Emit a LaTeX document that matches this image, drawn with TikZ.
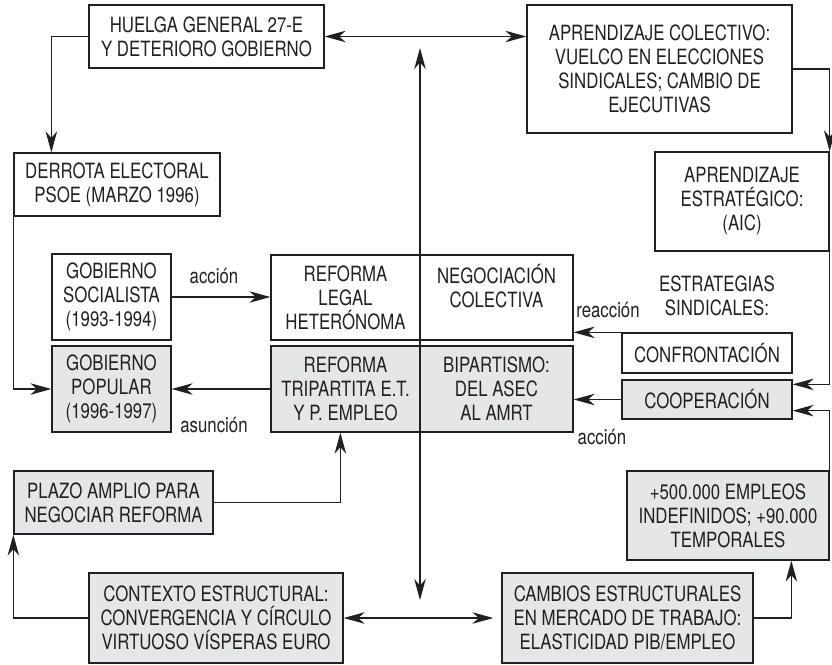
\documentclass[tikz,border=0pt]{standalone}
\usepackage{fontspec}
\setmainfont[FakeStretch=0.8]{TeX Gyre Heros}
\usetikzlibrary{arrows.meta,calc}
\definecolor{ink}{HTML}{231F20}
\definecolor{shade}{HTML}{E5E6E7}
\tikzset{tip/.tip={Stealth[length=21pt,width=11.5pt,inset=6.5pt]}}
\begin{document}
\begin{tikzpicture}[x=1pt,y=-1pt,
  every node/.style={font=\fontsize{21}{24}\selectfont, text=ink},
  box/.style={draw=ink, line width=1.3pt, align=center, inner sep=0pt},
  greybox/.style={box, fill=shade},
  link/.style={draw=ink, line width=1.2pt, -tip},
  twoway/.style={draw=ink, line width=1.2pt, tip-tip},
  lbl/.style={inner sep=0pt}]
\useasboundingbox (0,0) rectangle (832,664);

% upper row
\node[box, minimum width=235pt, minimum height=63pt] (huelga) at (206.5,36.5)
  {HUELGA GENERAL 27-E\\Y DETERIORO GOBIERNO};
\node[box, minimum width=265pt, minimum height=128pt] (colect) at (659.5,69)
  {APRENDIZAJE COLECTIVO:\\VUELCO EN ELECCIONES\\SINDICALES; CAMBIO DE\\EJECUTIVAS};
\node[box, minimum width=174pt, minimum height=99pt] (estrat) at (742,201.5)
  {APRENDIZAJE\\ESTRATÉGICO:\\(AIC)};
\node[box, minimum width=206pt, minimum height=63pt] (derrota) at (117,184.5)
  {DERROTA ELECTORAL\\PSOE (MARZO 1996)};

% governments
\node[box, minimum width=119pt, minimum height=86pt] (soc) at (111.5,297)
  {GOBIERNO\\SOCIALISTA\\(1993-1994)};
\node[greybox, minimum width=119pt, minimum height=86pt] (pop) at (111.5,389)
  {GOBIERNO\\POPULAR\\(1996-1997)};

% central block of reforms
\node[box, minimum width=149pt, minimum height=85pt] (legal) at (345.5,297.5)
  {REFORMA\\LEGAL\\HETERÓNOMA};
\node[box, minimum width=153pt, minimum height=85pt] (negoc) at (496.5,297.5)
  {NEGOCIACIÓN\\COLECTIVA\\\phantom{X}};
\node[greybox, minimum width=149pt, minimum height=86pt] (tripart) at (345.5,389)
  {REFORMA\\TRIPARTITA E.T.\\Y P. EMPLEO};
\node[greybox, minimum width=153pt, minimum height=86pt] (bipart) at (496.5,389)
  {BIPARTISMO:\\DEL ASEC\\AL AMRT};

% union strategies
\node[lbl, align=center] (estrlbl) at (717,296) {ESTRATEGIAS\\SINDICALES:};
\node[box, minimum width=170pt, minimum height=40pt] (confr) at (707,353) {CONFRONTACIÓN};
\node[greybox, minimum width=170pt, minimum height=39pt] (coop) at (707,399.5) {COOPERACIÓN};

% lower part
\node[greybox, minimum width=199pt, minimum height=63pt] (plazo) at (113.5,502.5)
  {PLAZO AMPLIO PARA\\NEGOCIAR REFORMA};
\node[greybox, minimum width=202pt, minimum height=89pt] (empleos) at (728,515.5)
  {+500.000 EMPLEOS\\INDEFINIDOS; +90.000\\TEMPORALES};
\node[greybox, minimum width=254pt, minimum height=90pt] (contexto) at (216,618)
  {CONTEXTO ESTRUCTURAL:\\CONVERGENCIA Y CÍRCULO\\VIRTUOSO VÍSPERAS EURO};
\node[greybox, minimum width=251pt, minimum height=90pt] (cambios) at (627.5,618)
  {CAMBIOS ESTRUCTURALES\\EN MERCADO DE TRABAJO:\\ELASTICIDAD PIB/EMPLEO};

% arrow labels
\node[lbl] (accion1) at (214,276) {acción};
\node[lbl] (asuncion) at (214,425) {asunción};
\node[lbl] (reaccion) at (608,310) {reacción};
\node[lbl] (accion2) at (602,437) {acción};

% free ends of the central axis
\coordinate (vtop) at (420,48);
\coordinate (vbot) at (420,600);

% connectors
\draw[twoway] (huelga.east) -- (huelga.east -| colect.west);
\draw[twoway] (vtop) -- (vbot);
\draw[twoway, shorten >=8pt] (contexto.east) -- (cambios.west);
\draw[link] (huelga.west) -| ($(derrota.north west)+(38,0)$);
\draw[link] (colect.east) -| (estrat.north east);
\draw[link] (estrat.south east) |- ($(coop.north east)+(0,5)$);
\draw[link] (empleos.north east) |- ($(coop.south east)+(0,-9)$);
\draw[link] (confr.north west) -- (confr.north west -| negoc.east);
\draw[link] (coop.west) -- (coop.west -| bipart.east);
\draw[link] (soc.east) -- (soc.east -| legal.west);
\draw[link] (tripart.west) -- (tripart.west -| pop.east);
\draw[link] (derrota.south west) |- (pop.west);
\draw[link] (plazo.east) -| ($(tripart.south west)+(70,0)$);
\draw[link] (contexto.west) -| (plazo.south west);
\draw[link] (cambios.east) -| ($(empleos.south west)+(165,0)$);
\end{tikzpicture}
\end{document}
